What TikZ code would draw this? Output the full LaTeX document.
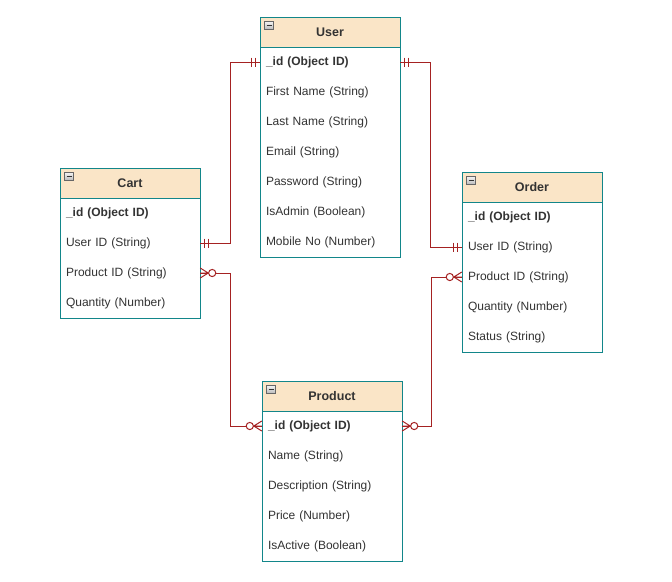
\documentclass[tikz,border=0pt]{standalone}
\usepackage{fontspec}
\setmainfont{Liberation Sans}
\definecolor{teal}{HTML}{12868A}
\definecolor{hdr}{HTML}{FAE5C7}
\definecolor{rel}{HTML}{A52222}
\definecolor{txt}{HTML}{333333}
\tikzset{
  hdrbox/.style={draw=teal, fill=hdr, line width=0.9pt, minimum width=140pt, minimum height=30pt, inner sep=0pt, font=\fontsize{12.5}{14}\selectfont\bfseries, text=txt},
  bodybox/.style={draw=teal, fill=white, line width=0.9pt, minimum width=140pt, inner sep=0pt},
  rowtxt/.style={minimum height=30pt, text width=128pt, inner xsep=6pt, inner ysep=0pt, align=left, font=\fontsize{12}{14}\selectfont, text=txt},
  keytxt/.style={rowtxt, font=\fontsize{12}{14}\selectfont\bfseries},
  relline/.style={draw=rel, line width=1pt},
  icon/.style={draw=gray!80!black, line width=0.5pt, top color=gray!10, bottom color=gray!55}
}
\newcommand\mkone[2]{\begin{scope}[shift={(#1)}, xscale=#2]
  \draw[relline] (4,-4.5)--(4,4.5) (8,-4.5)--(8,4.5);\end{scope}}
\newcommand\mkmany[2]{\begin{scope}[shift={(#1)}, xscale=#2]
  \draw[relline] (0,-5)--(8,0)--(0,5) (0,0)--(8,0);
  \draw[relline, fill=white] (12,0) circle (3.6);\end{scope}}
\newcommand\mkicon[1]{\begin{scope}[shift={(#1.north west)}]
  \draw[icon] (5,5) rectangle (14,13);
  \draw[black!80, line width=0.9pt] (7,9)--(12,9);\end{scope}}
\begin{document}
\begin{tikzpicture}[x=1pt, y=-1pt]
\useasboundingbox (0,0) rectangle (672,581);
% User
\node[bodybox, minimum height=210pt] (user-body) at (330,152) {};
\node[hdrbox] (user-h) at (330,32) {User};
\mkicon{user-h}
\node[keytxt] (user-id) at (330,62) {\_id (Object ID)};
\node[rowtxt] (user-fn) at (330,92) {First Name (String)};
\node[rowtxt] (user-ln) at (330,122) {Last Name (String)};
\node[rowtxt] (user-em) at (330,152) {Email (String)};
\node[rowtxt] (user-pw) at (330,182) {Password (String)};
\node[rowtxt] (user-ad) at (330,212) {IsAdmin (Boolean)};
\node[rowtxt] (user-mo) at (330,242) {Mobile No (Number)};
% Cart
\node[bodybox, minimum height=120pt] (cart-body) at (130,258) {};
\node[hdrbox] (cart-h) at (130,183) {Cart};
\mkicon{cart-h}
\node[keytxt] (cart-id) at (130,213) {\_id (Object ID)};
\node[rowtxt] (cart-uid) at (130,243) {User ID (String)};
\node[rowtxt] (cart-pid) at (130,273) {Product ID (String)};
\node[rowtxt] (cart-q) at (130,303) {Quantity (Number)};
% Order
\node[bodybox, minimum height=150pt] (order-body) at (532,277) {};
\node[hdrbox] (order-h) at (532,187) {Order};
\mkicon{order-h}
\node[keytxt] (order-id) at (532,217) {\_id (Object ID)};
\node[rowtxt] (order-uid) at (532,247) {User ID (String)};
\node[rowtxt] (order-pid) at (532,277) {Product ID (String)};
\node[rowtxt] (order-q) at (532,307) {Quantity (Number)};
\node[rowtxt] (order-st) at (532,337) {Status (String)};
% Product
\node[bodybox, minimum height=150pt] (prod-body) at (332,486) {};
\node[hdrbox] (prod-h) at (332,396) {Product};
\mkicon{prod-h}
\node[keytxt] (prod-id) at (332,426) {\_id (Object ID)};
\node[rowtxt] (prod-nm) at (332,456) {Name (String)};
\node[rowtxt] (prod-de) at (332,486) {Description (String)};
\node[rowtxt] (prod-pr) at (332,516) {Price (Number)};
\node[rowtxt] (prod-ac) at (332,546) {IsActive (Boolean)};
% relations
\draw[relline] (cart-uid.east) -- ++(30,0) |- (user-id.west);
\draw[relline] (user-id.east) -- ++(30,0) |- (order-uid.west);
\draw[relline] (cart-pid.east) -- ++(30,0) |- (prod-id.west);
\draw[relline] (order-pid.west) -- ++(-30,0) |- (prod-id.east);
\mkone{cart-uid.east}{1}
\mkone{user-id.west}{-1}
\mkone{user-id.east}{1}
\mkone{order-uid.west}{-1}
\mkmany{cart-pid.east}{1}
\mkmany{prod-id.west}{-1}
\mkmany{order-pid.west}{-1}
\mkmany{prod-id.east}{1}
\end{tikzpicture}
\end{document}
